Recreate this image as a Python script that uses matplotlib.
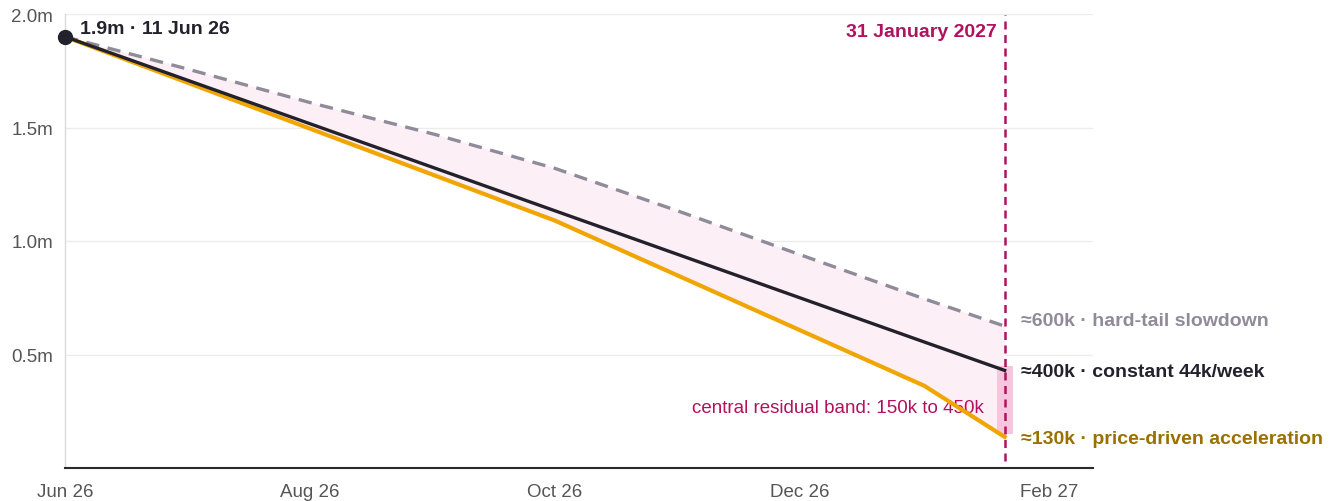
import numpy as np
import matplotlib
matplotlib.use("Agg")
import matplotlib.pyplot as plt
import matplotlib.dates as mdates
from datetime import date, timedelta

plt.rcParams["font.family"] = ["Liberation Sans", "DejaVu Sans"]

# ─── Data (millions of claimants) ───────────────────────────────────
START    = date(2026, 6, 11)
DEADLINE = date(2027, 1, 31)

const_dates  = ["2026-06-11", "2027-01-11", "2027-01-31"]
const_vals   = [1.90, 0.555, 0.43]

slow_dates   = ["2026-06-11", "2026-07-11", "2026-08-11", "2026-09-11", "2026-10-11",
                "2026-11-11", "2026-12-11", "2027-01-11", "2027-01-31"]
slow_vals    = [1.90, 1.76, 1.61, 1.47, 1.32, 1.13, 0.94, 0.745, 0.625]

accel_dates  = ["2026-06-11", "2026-10-11", "2027-01-11", "2027-01-31"]
accel_vals   = [1.90, 1.09, 0.362, 0.137]

band_low, band_high = 0.15, 0.45

tick_dates  = ["2026-06-11", "2026-08-11", "2026-10-11", "2026-12-11", "2027-02-11"]
tick_labels = ["Jun 26", "Aug 26", "Oct 26", "Dec 26", "Feb 27"]
y_ticks     = [0.5, 1.0, 1.5, 2.0]
y_labels    = ["0.5m", "1.0m", "1.5m", "2.0m"]

end_labels = [
    ("≈600k · hard-tail slowdown", 0.649, "#8f8b99"),
    ("≈400k · constant 44k/week", 0.426, "#23212c"),
    ("≈130k · price-driven acceleration", 0.129, "#9a7000"),
]

# colours
C_CONST  = "#23212c"
C_SLOW   = "#8f8b99"
C_ACCEL  = "#f0a500"
C_MAG    = "#b0125e"
C_FILL   = "#fdeff6"
C_BAND   = "#f6c6de"


def d(s):
    return mdates.datestr2num(s) if isinstance(s, str) else mdates.date2num(s)


def dn(lst):
    return np.array([d(s) for s in lst])


fig = plt.figure(figsize=(13.41, 5.02), dpi=100)
ax = fig.add_axes([65 / 1341, 1 - 469 / 502, (1093 - 65) / 1341, (469 - 15) / 502])

xs_slow, xs_acc = dn(slow_dates), dn(accel_dates)

# shaded spread between slowdown and acceleration paths
ax.fill(np.concatenate([xs_slow, xs_acc[::-1]]),
        np.concatenate([slow_vals, accel_vals[::-1]]),
        color=C_FILL, lw=0, zorder=1)

# residual band at the deadline
ax.fill_between([d(DEADLINE - timedelta(days=2.5)), d(DEADLINE + timedelta(days=2.5))],
                band_low, band_high, color=C_BAND, lw=0, zorder=2)

ax.plot(xs_slow, slow_vals, color=C_SLOW, lw=2.4, dashes=(4, 2.6), zorder=3)
ax.plot(xs_acc, accel_vals, color=C_ACCEL, lw=3.0, zorder=4,
        solid_joinstyle="miter")
ax.plot(dn(const_dates), const_vals, color=C_CONST, lw=2.4, zorder=5)
ax.plot([d(START)], [const_vals[0]], "o", color=C_CONST, ms=10, zorder=6,
        clip_on=False)

# deadline marker
ax.plot([d(DEADLINE)] * 2, [0.03, 1.995], color=C_MAG, lw=1.8, dashes=(3.2, 2.2),
        zorder=6, clip_on=False)
ax.text(d(DEADLINE) - 2.0, 1.922, "31 January 2027", color=C_MAG, fontsize=14,
        fontweight="bold", ha="right", va="center")

ax.text(d(START) + 3.7, 1.935, "1.9m · 11 Jun 26", color=C_CONST, fontsize=14,
        fontweight="bold", ha="left", va="center")

ax.text(d(DEADLINE) - 5.2, 0.268, "central residual band: 150k to 450k",
        color=C_MAG, fontsize=13.5, ha="right", va="center")

for txt, yv, col in end_labels:
    ax.text(d(DEADLINE) + 4.0, yv, txt, color=col, fontsize=14,
            fontweight="bold", ha="left", va="center", clip_on=False)

# axes styling
ax.set_xlim(d(START), d("2027-02-22"))
ax.set_ylim(0, 2.0)
ax.set_xticks(dn(tick_dates))
ax.set_xticklabels(tick_labels)
ax.set_yticks(y_ticks)
ax.set_yticklabels(y_labels)
ax.tick_params(axis="both", length=0, labelsize=13.5, colors="#555555")
ax.tick_params(axis="x", pad=11)
ax.tick_params(axis="y", pad=8.5)
ax.grid(axis="y", color="#ececec", lw=1)
ax.set_axisbelow(True)
for s in ["top", "right"]:
    ax.spines[s].set_visible(False)
ax.spines["left"].set_color("#dedad6")
ax.spines["left"].set_linewidth(1.0)
ax.spines["bottom"].set_color("#2b2b2b")
ax.spines["bottom"].set_linewidth(1.5)

fig.savefig("out.png", dpi=100)
